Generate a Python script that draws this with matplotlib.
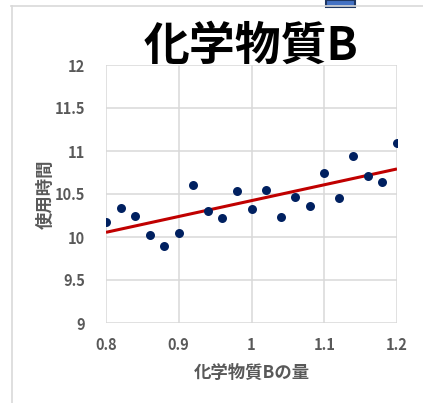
import numpy as np
import matplotlib.pyplot as plt
from matplotlib.lines import Line2D
from matplotlib.patches import Rectangle

plt.rcParams['font.family'] = ['Noto Sans CJK JP', 'DejaVu Sans']

# amount of chemical B vs. usage time
amount = [0.80, 0.82, 0.84, 0.86, 0.88, 0.90, 0.92, 0.94, 0.96, 0.98, 1.00,
          1.02, 1.04, 1.06, 1.08, 1.10, 1.12, 1.14, 1.16, 1.18, 1.20]
hours = [10.17, 10.34, 10.25, 10.02, 9.89, 10.05, 10.61, 10.30, 10.22, 10.53, 10.32,
         10.55, 10.23, 10.47, 10.36, 10.74, 10.45, 10.94, 10.71, 10.64, 11.09]
xticks = [0.8, 0.9, 1.0, 1.1, 1.2]
xticklabels = ['0.8', '0.9', '1', '1.1', '1.2']
yticks = [9, 9.5, 10, 10.5, 11, 11.5, 12]
yticklabels = ['9', '9.5', '10', '10.5', '11', '11.5', '12']

W, H = 423, 403
fig = plt.figure(figsize=(W / 100, H / 100), dpi=100)
ax = fig.add_axes([106 / W, 1 - 323 / H, (397 - 106) / W, (323 - 65) / H])

grey = '#595959'
gridc = '#d9d9d9'

# linear trend line
k, b = np.polyfit(amount, hours, 1)
xs = np.array([0.8, 1.2])
ax.plot(xs, k * xs + b, color='#c00000', lw=2.2, zorder=2, solid_capstyle='butt')
ax.scatter(amount, hours, s=42, color='#002060', zorder=3, linewidths=0)

ax.set_xlim(0.8, 1.2)
ax.set_ylim(9, 12)
ax.set_xticks(xticks)
ax.set_xticklabels(xticklabels)
ax.set_yticks(yticks)
ax.set_yticklabels(yticklabels)
ax.grid(True, color=gridc, lw=1.1)
ax.set_axisbelow(True)
for s in ax.spines.values():
    s.set_visible(False)
ax.tick_params(length=0, labelsize=10.5, labelcolor=grey)
ax.tick_params(axis='x', pad=10)
ax.tick_params(axis='y', pad=15)
for lab in ax.get_xticklabels() + ax.get_yticklabels():
    lab.set_fontweight('bold')

ax.set_xlabel('化学物質Bの量', fontsize=12.5, color=grey, fontweight='bold', labelpad=8)
ax.set_ylabel('使用時間', fontsize=12.5, color=grey, fontweight='bold', labelpad=0)
fig.text(251 / W, 1 - 47 / H, '化学物質B', ha='center', va='center',
         fontsize=33, fontweight='bold', color='black')

# chart frame and header icon
fig.add_artist(Line2D([11 / W, 1], [1 - 5.5 / H] * 2, color='#d9d9d9', lw=1.2))
fig.add_artist(Line2D([11.5 / W] * 2, [0, 1 - 5.5 / H], color='#d9d9d9', lw=1.2))
fig.add_artist(Rectangle((326 / W, 1 - 7 / H), 29 / W, 7 / H, facecolor='#4472c4',
                         edgecolor='#1f3864', lw=1.5, transform=fig.transFigure))

fig.savefig('out.png', dpi=100)
